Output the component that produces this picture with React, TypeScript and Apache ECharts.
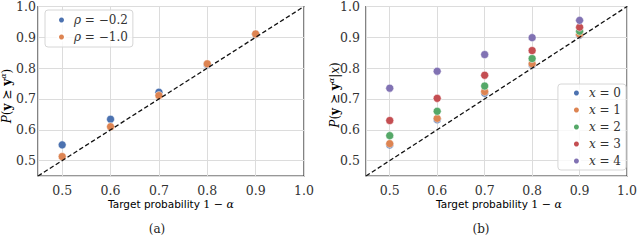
import React, { useEffect, useRef } from "react";
import * as echarts from "echarts";

const targets = [0.5, 0.6, 0.7, 0.8, 0.9];
const rhoMinus02 = [0.551, 0.634, 0.722, 0.812, 0.91];
const rhoMinus10 = [0.513, 0.61, 0.711, 0.814, 0.911];
const x0 = [0.551, 0.633, 0.719, 0.811, 0.907];
const x1 = [0.555, 0.637, 0.724, 0.814, 0.91];
const x2 = [0.581, 0.66, 0.742, 0.831, 0.92];
const x3 = [0.63, 0.702, 0.777, 0.857, 0.933];
const x4 = [0.735, 0.79, 0.844, 0.899, 0.955];
const diagonal = [
  [0.45, 0.45],
  [1.0, 1.0],
];
const leftNames = ["ρ = −0.2", "ρ = −1.0"];
const rightNames = ["x = 0", "x = 1", "x = 2", "x = 3", "x = 4"];
const colors = ["#4C72B0", "#DD8452", "#55A868", "#C44E52", "#8172B3"];

const SERIF = "DejaVu Serif";
const SANS = "DejaVu Sans";
const TXT = "#333";

function pairs(ys: number[]) {
  return ys.map((y, i) => [targets[i], y]);
}

export default function App() {
  const ref = useRef<HTMLDivElement>(null);
  useEffect(() => {
    if (!ref.current) return;
    const chart = echarts.init(ref.current, undefined, { renderer: "svg" });
    const fmt = (v: number) =>
      Math.abs(v * 10 - Math.round(v * 10)) < 1e-6 ? v.toFixed(1) : "";
    const mkX = (gridIndex: number) => ({
      type: "value",
      gridIndex,
      min: 0.45,
      max: 1.0,
      splitNumber: 5,
      axisLine: { show: false },
      axisTick: { show: false },
      splitLine: { show: true, lineStyle: { color: "#dcdcdc", width: 1 } },
      axisLabel: {
        formatter: fmt,
        margin: 8,
        fontFamily: SERIF,
        fontSize: 12.5,
        color: TXT,
        showMinLabel: false,
      },
    });
    const mkY = (gridIndex: number, margin: number) => ({
      type: "value",
      gridIndex,
      min: 0.45,
      max: 1.0,
      splitNumber: 5,
      axisLine: { show: false },
      axisTick: { show: false },
      splitLine: { show: true, lineStyle: { color: "#dcdcdc", width: 1 } },
      axisLabel: {
        formatter: fmt,
        margin,
        fontFamily: SERIF,
        fontSize: 12.5,
        color: TXT,
        showMinLabel: false,
      },
    });
    const scatter = (name: string, data: number[], color: string, gi: number, z: number) => ({
      type: "scatter",
      name,
      xAxisIndex: gi,
      yAxisIndex: gi,
      data: pairs(data),
      symbolSize: 8,
      itemStyle: { color, borderColor: "#fff", borderWidth: 0.5, opacity: 1 },
      z,
    });
    const diag = (gi: number) => ({
      type: "line",
      name: "diag" + gi,
      xAxisIndex: gi,
      yAxisIndex: gi,
      data: diagonal,
      symbol: "none",
      showSymbol: false,
      silent: true,
      lineStyle: { color: "#111", width: 1.3, type: [4.5, 2.5] },
      z: 10,
    });
    const legendBase = {
      orient: "vertical",
      itemWidth: 7,
      itemHeight: 7,
      itemGap: 3,
      icon: "circle",
      backgroundColor: "rgba(255,255,255,0.8)",
      borderColor: "#d6d6d6",
      borderWidth: 1,
      borderRadius: 3,
      textStyle: {
        fontFamily: SERIF,
        fontSize: 12,
        color: "#333",
        lineHeight: 14,
        padding: [0, 0, 0, 4],
        rich: {
          i: { fontFamily: SERIF, fontStyle: "italic", fontSize: 12, color: "#333", lineHeight: 14 },
        },
      },
      formatter: (n: string) => n.replace(/^(ρ|x)/, "{i|$1}"),
    };
    const yRich = {
      n: { fontFamily: SERIF, fontSize: 12, color: TXT, lineHeight: 16 },
      i: { fontFamily: SERIF, fontStyle: "italic", fontSize: 12, color: TXT, lineHeight: 16 },
      b: { fontFamily: SERIF, fontWeight: "bold", fontSize: 12, color: "#444", lineHeight: 16 },
      s: { fontFamily: SERIF, fontStyle: "italic", fontSize: 8, color: TXT, verticalAlign: "top", lineHeight: 16 },
      r: { fontFamily: SANS, fontSize: 12, color: TXT, lineHeight: 16 },
    };
    const xRich = {
      s: { fontFamily: SANS, fontSize: 10.5, color: TXT },
      m: { fontFamily: SERIF, fontSize: 11, color: TXT },
      i: { fontFamily: SERIF, fontStyle: "italic", fontSize: 11, color: TXT },
    };
    const xName = "{s|Target probability }{m|1 − }{i|α}";
    chart.setOption({
      animation: false,
      backgroundColor: "#fff",
      grid: [
        { left: 38, top: 4, width: 266, height: 172, show: true, borderColor: "#333", borderWidth: 1.2, backgroundColor: "#fff" },
        { left: 366, top: 4, width: 266, height: 172, show: true, borderColor: "#333", borderWidth: 1.2, backgroundColor: "#fff" },
      ],
      xAxis: [mkX(0), mkX(1)],
      yAxis: [mkY(0, 2), mkY(1, 6)],
      legend: [
        { ...legendBase, data: leftNames, left: 45, top: 10, padding: [3, 5, 3, 12] },
        { ...legendBase, data: rightNames, right: 14, top: 84, padding: [2, 5, 2, 14] },
      ],
      series: [
        scatter(leftNames[0], rhoMinus02, colors[0], 0, 2),
        scatter(leftNames[1], rhoMinus10, colors[1], 0, 3),
        diag(0),
        scatter(rightNames[0], x0, colors[0], 1, 2),
        scatter(rightNames[1], x1, colors[1], 1, 3),
        scatter(rightNames[2], x2, colors[2], 1, 4),
        scatter(rightNames[3], x3, colors[3], 1, 5),
        scatter(rightNames[4], x4, colors[4], 1, 6),
        diag(1),
      ],
      graphic: [
        {
          type: "text",
          x: 7,
          y: 96,
          rotation: Math.PI / 2,
          style: {
            text: "{i|P}{n|(}{b|y}{r| ⪰ }{b|y}{s|α}{n|)}",
            rich: yRich,
            align: "center",
            verticalAlign: "middle",
          },
        },
        {
          type: "text",
          x: 335,
          y: 95,
          rotation: Math.PI / 2,
          style: {
            text: "{i|P}{n|(}{b|y}{r| ⪰ }{b|y}{s|α}{n||}{i|x}{n|)}",
            rich: yRich,
            align: "center",
            verticalAlign: "middle",
          },
        },
        {
          type: "text",
          x: 171,
          y: 204,
          style: { text: xName, rich: xRich, align: "center", verticalAlign: "middle" },
        },
        {
          type: "text",
          x: 499,
          y: 204,
          style: { text: xName, rich: xRich, align: "center", verticalAlign: "middle" },
        },
        {
          type: "text",
          x: 157,
          y: 229,
          style: { text: "(a)", fontFamily: SERIF, fontSize: 12, fill: "#222", align: "center", verticalAlign: "middle" },
        },
        {
          type: "text",
          x: 481,
          y: 229,
          style: { text: "(b)", fontFamily: SERIF, fontSize: 12, fill: "#222", align: "center", verticalAlign: "middle" },
        },
      ],
    });
    return () => chart.dispose();
  }, []);
  return (
    <div
      ref={ref}
      style={{ position: "fixed", left: 0, top: 0, width: 640, height: 252, background: "#fff" }}
    />
  );
}
